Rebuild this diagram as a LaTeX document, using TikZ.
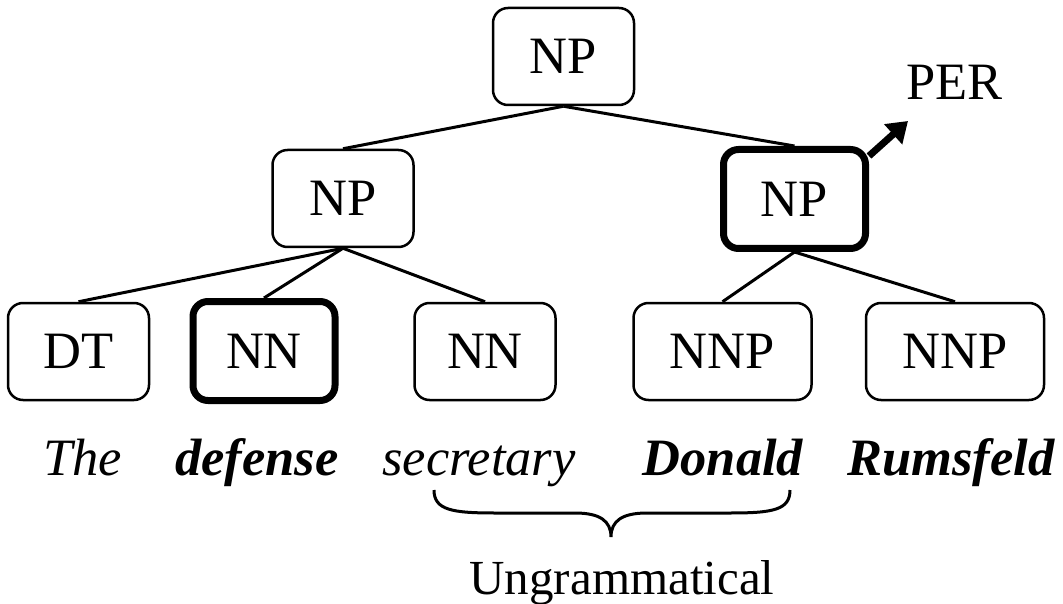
\documentclass[tikz,border=0pt]{standalone}
\usepackage{fontspec}
\setmainfont{Liberation Serif}
\usetikzlibrary{arrows.meta}
\begin{document}
\begin{tikzpicture}[x=1pt,y=-1pt,
  box/.style={draw, rounded corners=15pt, line width=2.5pt, minimum width=141pt,
    minimum height=97pt, inner sep=0pt, font=\fontsize{52.5}{60}\selectfont},
  wide/.style={minimum width=178pt},
  heavy/.style={line width=7pt, minimum width=142pt, minimum height=99pt},
  edge/.style={line width=3pt},
  word/.style={anchor=base, inner sep=0pt, font=\fontsize{52.5}{60}\selectfont\itshape},
  bword/.style={word, font=\fontsize{52.5}{60}\selectfont\bfseries\itshape},
  plain/.style={anchor=base, inner sep=0pt, font=\fontsize{52.5}{60}\selectfont},
  perarrow/.style={line width=7pt, -{Triangle[length=20pt,width=26pt]}},
  bracestyle/.style={line width=3pt}
]
\useasboundingbox (0,0) rectangle (1063,604);
% nodes
\node[box] (top) at (563.5,56.5) {NP};
\node[box] (lnp) at (343,198.5) {NP};
\node[box,heavy] (rnp) at (794.5,199) {NP};
\node[box] (dt) at (78.5,351.5) {DT};
\node[box,heavy] (nn1) at (264,351) {NN};
\node[box] (nn2) at (485,351.5) {NN};
\node[box,wide] (nnp1) at (722.5,351.5) {NNP};
\node[box,wide] (nnp2) at (955,351.5) {NNP};
% words
\node[word] (w1) at (82.5,475) {The};
\node[bword] (w2) at (257,475) {defense};
\node[word] (w3) at (479,475) {secretary};
\node[bword] (w4) at (723,475) {Donald};
\node[bword] (w5) at (951,475) {Rumsfeld};
\node[plain] (per) at (954.5,100) {PER};
\node[plain, font=\fontsize{49}{56}\selectfont] (ungr) at (622,594) {Ungrammatical};
% edges
\draw[edge] (top.south) -- (lnp.north);
\draw[edge] (top.south) -- (rnp.north);
\draw[edge] (lnp.south) -- (dt.north);
\draw[edge] (lnp.south) -- (nn1.north);
\draw[edge] (lnp.south) -- (nn2.north);
\draw[edge] (rnp.south) -- (nnp1.north);
\draw[edge] (rnp.south) -- (nnp2.north);
% arrow to PER
\coordinate (pertip) at (908,121);
\draw[perarrow] (rnp.30) -- (pertip);
% brace
\coordinate (bl) at (434,490);
\coordinate (br) at (790,490);
\coordinate (btip) at (611,537);
\draw[bracestyle] (bl) .. controls (434,510) and (452,513) .. (495,513)
  -- (575,513) .. controls (600,513) and (611,521) .. (btip)
  .. controls (611,521) and (622,513) .. (647,513)
  -- (730,513) .. controls (773,513) and (790,510) .. (br);
\end{tikzpicture}
\end{document}
